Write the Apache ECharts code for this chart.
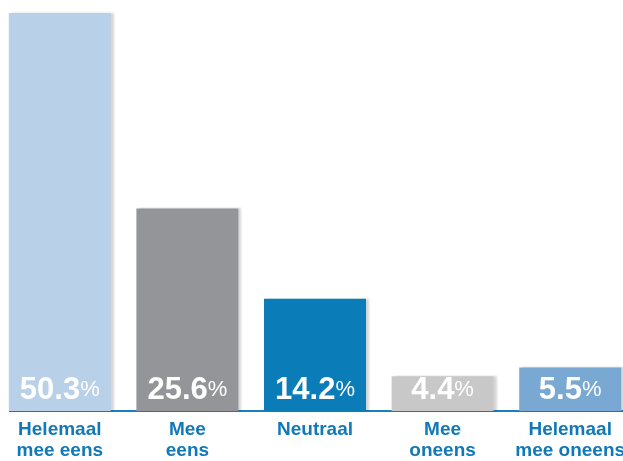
<!DOCTYPE html>
<html>
<head>
<meta charset="utf-8">
<script src="https://cdn.jsdelivr.net/npm/echarts@6/dist/echarts.min.js"></script>
<style>
html,body{margin:0;padding:0;background:#fff;}
#chart{width:623px;height:461px;}
</style>
</head>
<body>
<div id="chart"></div>
<script>
const categories = ["Helemaal\nmee eens", "Mee\neens", "Neutraal", "Mee\noneens", "Helemaal\nmee oneens"];
const values = [50.3, 25.6, 14.2, 4.4, 5.5];
const barColors = ["#b8d0e8", "#939598", "#0a7cb8", "#c8c8c9", "#79a9d3"];

const chart = echarts.init(document.getElementById('chart'), null, {renderer: 'canvas'});
chart.setOption({
  animation: false,
  grid: {left: -4, width: 638, top: 13, height: 398, outerBoundsMode: 'none', containLabel: false},
  xAxis: {
    type: 'category',
    data: categories,
    axisLine: {show: false},
    axisTick: {show: false},
    axisLabel: {
      color: '#1279b8',
      fontFamily: 'Liberation Sans, Arial, sans-serif',
      fontWeight: 'bold',
      fontSize: 19,
      lineHeight: 21,
      margin: 8,
      interval: 0,
      hideOverlap: false
    }
  },
  yAxis: {type: 'value', min: 0, max: 50.3, show: false},
  graphic: [{
    type: 'rect', z: 1,
    shape: {x: 9, y: 410, width: 614, height: 2},
    style: {fill: '#1a7fc0'}
  }],
  series: [{
    type: 'bar',
    z: 5,
    barWidth: 102,
    data: values.map((v, i) => ({value: v, itemStyle: {color: barColors[i]}})),
    itemStyle: {
      shadowColor: 'rgba(0,0,0,0.16)',
      shadowBlur: 2,
      shadowOffsetX: 3,
      shadowOffsetY: 0
    },
    label: {
      show: true,
      position: 'insideBottom',
      distance: 5,
      formatter: p => '{v|' + p.value.toFixed(1) + '}{p|%}',
      rich: {
        v: {fontFamily: 'Liberation Sans, Arial, sans-serif', fontWeight: 'bold', fontSize: 31, color: '#fff', letterSpacing: -1.5},
        p: {fontFamily: 'Liberation Sans, Arial, sans-serif', fontSize: 22, color: '#fff', padding: [0, 0, 1, 0]}
      }
    }
  }]
});
</script>
</body>
</html>
